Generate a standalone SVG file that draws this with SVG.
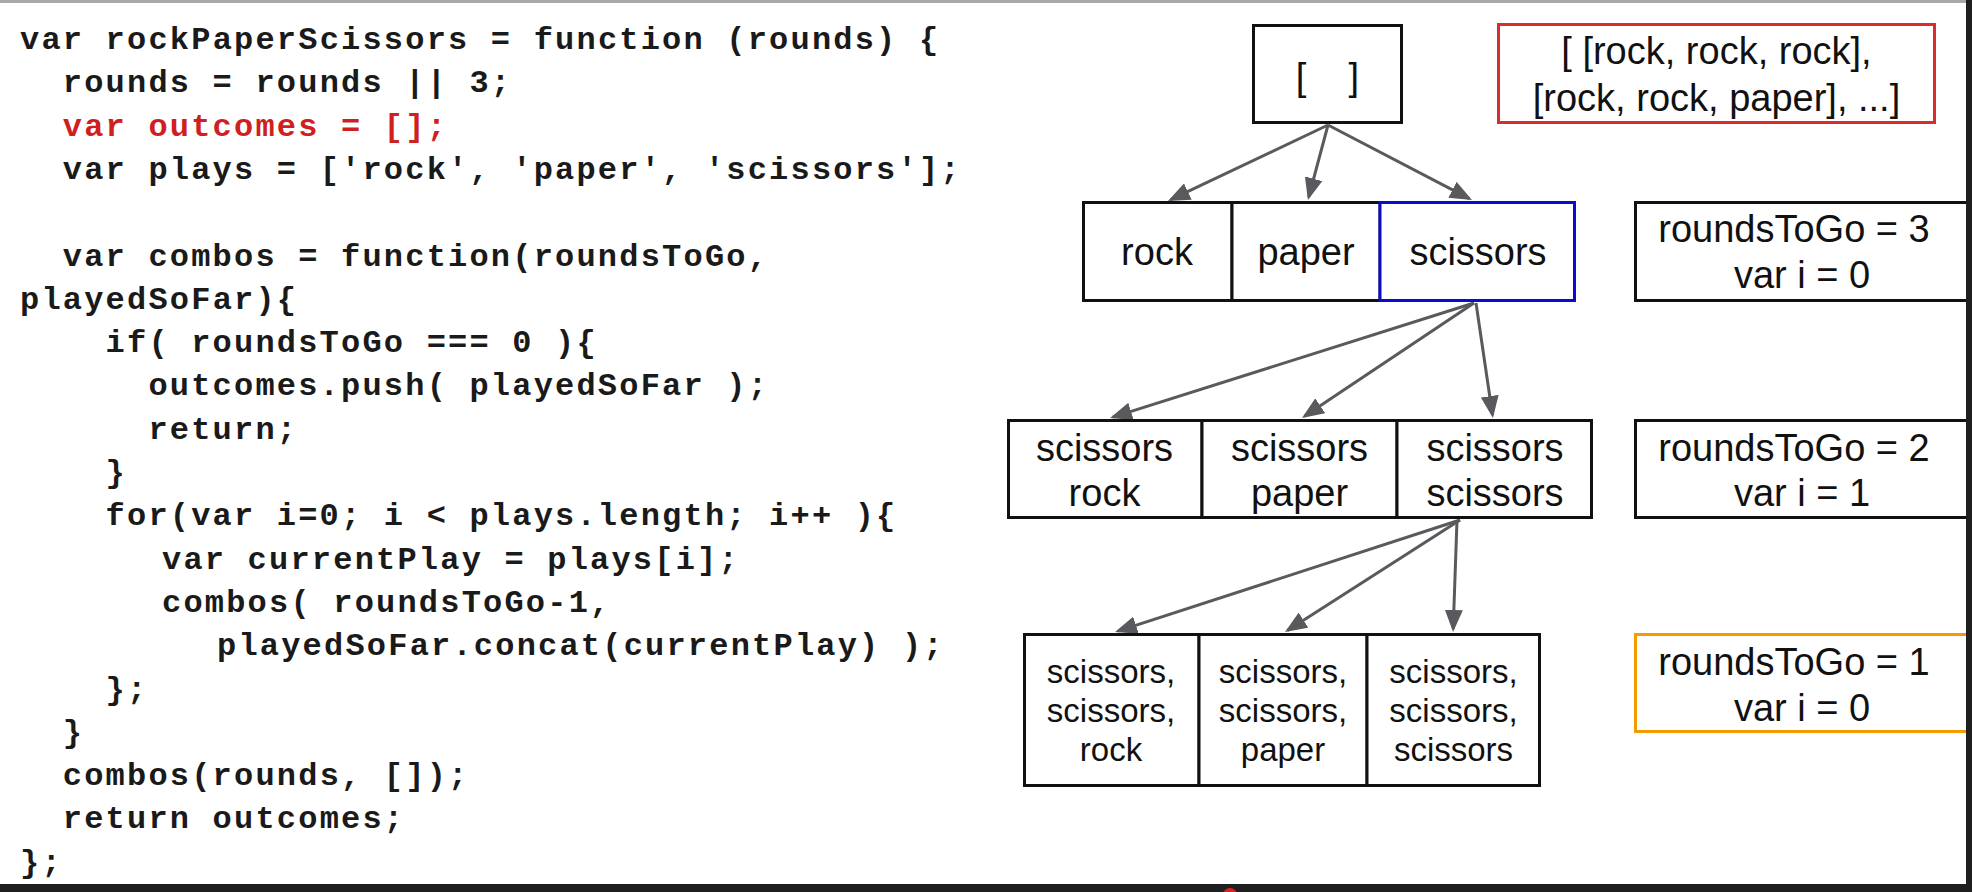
<svg xmlns="http://www.w3.org/2000/svg" width="1972" height="892" viewBox="0 0 1972 892">
<style>
.code{font-family:"Liberation Mono",monospace;font-weight:bold;font-size:32px;letter-spacing:2.2px;fill:#1a1a1a;white-space:pre}
.red{fill:#d01f1f}
.lbl{font-family:"Liberation Sans",Arial,sans-serif;font-size:38px;fill:#111;text-anchor:middle}
.sm{font-size:33px}
.box{fill:#fff;stroke:#111;stroke-width:3}
.edge{stroke:#5a5a5e;stroke-width:3;fill:none;marker-end:url(#ah)}
</style>
<defs>
<marker id="ah" markerUnits="userSpaceOnUse" markerWidth="22" markerHeight="18" refX="19" refY="9" orient="auto">
<path d="M0,0 L22,9 L0,18 z" fill="#5a5a5e"/>
</marker>
</defs>
<rect x="0" y="0" width="1972" height="892" fill="#fff"/>
<rect x="0" y="0" width="1972" height="3" fill="#a8a8a8"/>

<g id="code">
<text class="code" x="20" y="49">var rockPaperScissors = function (rounds) {</text>
<text class="code" x="62.8" y="92.3">rounds = rounds || 3;</text>
<text class="code red" x="62.8" y="135.6">var outcomes = [];</text>
<text class="code" x="62.8" y="178.9">var plays = ['rock', 'paper', 'scissors'];</text>
<text class="code" x="62.8" y="265.5">var combos = function(roundsToGo,</text>
<text class="code" x="20" y="308.8">playedSoFar){</text>
<text class="code" x="105.6" y="352.1">if( roundsToGo === 0 ){</text>
<text class="code" x="148.4" y="395.4">outcomes.push( playedSoFar );</text>
<text class="code" x="148.4" y="438.7">return;</text>
<text class="code" x="105.6" y="482">}</text>
<text class="code" x="105.6" y="525.3">for(var i=0; i &lt; plays.length; i++ ){</text>
<text class="code" x="162" y="568.6">var currentPlay = plays[i];</text>
<text class="code" x="162" y="611.9">combos( roundsToGo-1,</text>
<text class="code" x="217" y="655.2">playedSoFar.concat(currentPlay) );</text>
<text class="code" x="105.6" y="698.5">};</text>
<text class="code" x="62.8" y="741.8">}</text>
<text class="code" x="62.8" y="785.1">combos(rounds, []);</text>
<text class="code" x="62.8" y="828.4">return outcomes;</text>
<text class="code" x="20" y="871.7">};</text>
</g>

<g id="connectors">
<line class="edge" x1="1328" y1="125" x2="1170.7" y2="199.7"/>
<line class="edge" x1="1328" y1="125" x2="1308.7" y2="197.1"/>
<line class="edge" x1="1328" y1="125" x2="1469.3" y2="198.6"/>
<line class="edge" x1="1474" y1="303" x2="1112.9" y2="417.1"/>
<line class="edge" x1="1474" y1="303" x2="1304.5" y2="416.3"/>
<line class="edge" x1="1476" y1="303" x2="1492.5" y2="415"/>
<line class="edge" x1="1460" y1="520" x2="1117.9" y2="631.1"/>
<line class="edge" x1="1460" y1="520" x2="1287.5" y2="630.4"/>
<line class="edge" x1="1457" y1="520" x2="1453.2" y2="629"/>
</g>

<g id="root">
<rect class="box" x="1253.5" y="25.5" width="148" height="97"/>
<text class="lbl" x="1327.5" y="90" xml:space="preserve" style="white-space:pre">[    ]</text>
</g>

<g id="result">
<rect x="1498.5" y="24.5" width="436" height="98" fill="#fff" stroke="#dd2a2a" stroke-width="3"/>
<text class="lbl" x="1716.5" y="64">[ [rock, rock, rock],</text>
<text class="lbl" x="1716.5" y="111">[rock, rock, paper], ...]</text>
</g>

<g id="n-rock">
<rect class="box" x="1083.5" y="202.5" width="148.5" height="98"/>
<text class="lbl" x="1157" y="265">rock</text>
</g>
<g id="n-paper">
<rect class="box" x="1232" y="202.5" width="148" height="98"/>
<text class="lbl" x="1306" y="265">paper</text>
</g>
<g id="n-scissors">
<rect x="1380" y="202.5" width="194.5" height="98" fill="#fff" stroke="#0a0ad0" stroke-width="3"/>
<text class="lbl" x="1478" y="265">scissors</text>
</g>

<g id="info-3">
<rect class="box" x="1635.5" y="202.5" width="340" height="98"/>
<text class="lbl" x="1794" y="242">roundsToGo = 3</text>
<text class="lbl" x="1802" y="288">var i = 0</text>
</g>

<g id="n-ss-rock">
<rect class="box" x="1008.5" y="420.5" width="193.5" height="97"/>
<text class="lbl" x="1104.5" y="461">scissors</text>
<text class="lbl" x="1104.5" y="506">rock</text>
</g>
<g id="n-ss-paper">
<rect class="box" x="1202" y="420.5" width="195" height="97"/>
<text class="lbl" x="1299.5" y="461">scissors</text>
<text class="lbl" x="1299.5" y="506">paper</text>
</g>
<g id="n-ss-scissors">
<rect class="box" x="1397" y="420.5" width="194.5" height="97"/>
<text class="lbl" x="1495" y="461">scissors</text>
<text class="lbl" x="1495" y="506">scissors</text>
</g>

<g id="info-2">
<rect class="box" x="1635.5" y="420.5" width="340" height="97"/>
<text class="lbl" x="1794" y="461">roundsToGo = 2</text>
<text class="lbl" x="1802" y="506">var i = 1</text>
</g>

<g id="n-sss-rock">
<rect class="box" x="1024.5" y="634.5" width="174.5" height="151"/>
<text class="lbl sm" x="1111" y="683">scissors,</text>
<text class="lbl sm" x="1111" y="722">scissors,</text>
<text class="lbl sm" x="1111" y="761">rock</text>
</g>
<g id="n-sss-paper">
<rect class="box" x="1199" y="634.5" width="168" height="151"/>
<text class="lbl sm" x="1283" y="683">scissors,</text>
<text class="lbl sm" x="1283" y="722">scissors,</text>
<text class="lbl sm" x="1283" y="761">paper</text>
</g>
<g id="n-sss-scissors">
<rect class="box" x="1367" y="634.5" width="172.5" height="151"/>
<text class="lbl sm" x="1453.5" y="683">scissors,</text>
<text class="lbl sm" x="1453.5" y="722">scissors,</text>
<text class="lbl sm" x="1453.5" y="761">scissors</text>
</g>

<g id="info-1">
<rect x="1635.5" y="634.5" width="340" height="97" fill="#fff" stroke="#f59b00" stroke-width="3"/>
<text class="lbl" x="1794" y="675">roundsToGo = 1</text>
<text class="lbl" x="1802" y="721">var i = 0</text>
</g>

<rect x="1966" y="0" width="6" height="892" fill="#1f1f1f"/>
<rect x="0" y="884" width="1972" height="8" fill="#1f1f1f"/>
<circle cx="1230" cy="895" r="7" fill="#e02020"/>
</svg>
